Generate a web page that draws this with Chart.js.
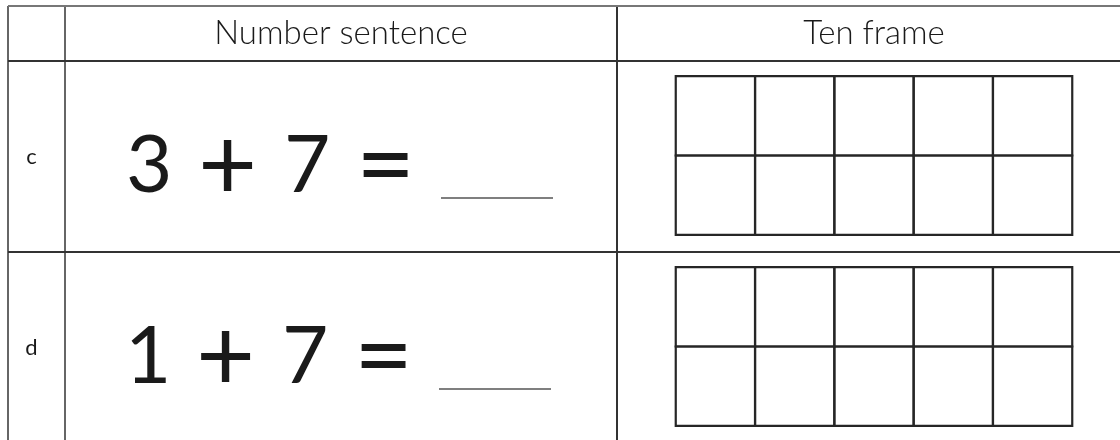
<!DOCTYPE html>
<html>
<head>
<meta charset="utf-8">
<script src="https://cdn.jsdelivr.net/npm/chart.js@4"></script>
<style>
  html, body { margin: 0; padding: 0; background: #fff; }
  #wrap { width: 1120px; height: 440px; }
</style>
</head>
<body>
<div id="wrap"><canvas id="chart" width="1120" height="440"></canvas></div>
<script>
const headers = ["", "Number sentence", "Ten frame"];
const rowLabels = ["c", "d"];
const firstAddends = [3, 1];
const secondAddends = [7, 7];
const frameCols = 5;
const frameRows = 2;

// table layout in canvas pixels (scales map 1 unit = 1 px)
const colEdges = [8, 65, 617, 1131];
const rowEdges = [6, 61, 252, 443];
const CELL = 79.3;
const FONT = "Lato, 'Open Sans', sans-serif";
const DIGIT_FONT = `400 80px ${FONT}`;
const OP_FONT = `400 102px ${FONT}`;

function colCenter(c) { return (colEdges[c] + colEdges[c + 1]) / 2; }
function rowCenter(r) { return (rowEdges[r] + rowEdges[r + 1]) / 2; }

// one square per ten-frame cell
const frameCells = [];
rowLabels.forEach((_, r) => {
  const cx = colCenter(2);
  const cy = rowCenter(r + 1) - 1;
  for (let i = 0; i < frameCols; i++) {
    for (let j = 0; j < frameRows; j++) {
      frameCells.push({
        x: cx + (i - (frameCols - 1) / 2) * CELL,
        y: cy + (j - (frameRows - 1) / 2) * CELL,
      });
    }
  }
});

const tablePlugin = {
  id: "tableText",
  afterDraw(chart) {
    const { ctx, scales: { x, y } } = chart;
    ctx.save();
    ctx.fillStyle = "#1a1a1a";

    // header row
    ctx.font = `300 33px ${FONT}`;
    ctx.textAlign = "center";
    ctx.textBaseline = "alphabetic";
    headers.forEach((h, c) => {
      if (!h) return;
      ctx.fillText(h, x.getPixelForValue(colCenter(c)), y.getPixelForValue(44));
    });

    // row letters
    ctx.font = `22px ${FONT}`;
    rowLabels.forEach((lab, r) => {
      ctx.fillText(lab, x.getPixelForValue(colCenter(0) - 5), y.getPixelForValue(rowCenter(r + 1) + 7));
    });

    // number sentences
    ctx.textAlign = "left";
    rowLabels.forEach((_, r) => {
      const tokens = [
        { t: String(firstAddends[r]), font: DIGIT_FONT, dy: 0 },
        { t: "+", font: OP_FONT, dy: 8 },
        { t: String(secondAddends[r]), font: DIGIT_FONT, dy: 0 },
        { t: "=", font: OP_FONT, dy: 8 },
      ];
      const gap = 35;
      const blankW = 112;
      tokens.forEach((tk) => {
        ctx.font = tk.font;
        const m = ctx.measureText(tk.t);
        tk.left = m.actualBoundingBoxLeft;
        tk.w = m.actualBoundingBoxLeft + m.actualBoundingBoxRight;
      });
      const total = tokens.reduce((s, b) => s + b.w, 0) + gap * tokens.length - 2 + blankW;
      let px = x.getPixelForValue(colCenter(1)) - total / 2;
      const base = y.getPixelForValue(rowCenter(r + 1) + 35);
      tokens.forEach((tk) => {
        ctx.font = tk.font;
        ctx.fillText(tk.t, px + tk.left, base + tk.dy);
        px += tk.w + gap;
      });
      px -= 2;
      ctx.strokeStyle = "#555";
      ctx.lineWidth = 1.5;
      ctx.beginPath();
      ctx.moveTo(px, base + 6.5);
      ctx.lineTo(px + blankW, base + 6.5);
      ctx.stroke();
    });
    ctx.restore();
  },
};

new Chart(document.getElementById("chart"), {
  type: "scatter",
  data: {
    datasets: [{
      data: frameCells,
      pointStyle: "rect",
      pointRadius: CELL / Math.SQRT2,
      pointHoverRadius: CELL / Math.SQRT2,
      backgroundColor: "rgba(0,0,0,0)",
      borderColor: "#262626",
      borderWidth: 2.2,
      clip: false,
    }],
  },
  options: {
    responsive: false,
    devicePixelRatio: 1,
    animation: false,
    events: [],
    layout: {
      autoPadding: false,
      padding: { left: colEdges[0], top: rowEdges[0], right: 0, bottom: 0 },
    },
    plugins: { legend: { display: false }, tooltip: { enabled: false } },
    scales: {
      x: {
        type: "linear",
        min: colEdges[0],
        max: 1120,
        afterBuildTicks: (scale) => { scale.ticks = colEdges.slice(0, 3).map((v) => ({ value: v })); },
        ticks: { display: false },
        border: { display: false },
        grid: {
          drawTicks: false,
          lineWidth: 2,
          color: (c) => (c.index === 2 ? "#333" : "#666"),
        },
      },
      y: {
        type: "linear",
        reverse: true,
        min: rowEdges[0],
        max: 440,
        afterBuildTicks: (scale) => { scale.ticks = rowEdges.slice(0, 3).map((v) => ({ value: v })); },
        ticks: { display: false },
        border: { display: false },
        grid: {
          drawTicks: false,
          lineWidth: 2,
          color: (c) => (c.index === 0 ? "#777" : "#333"),
        },
      },
    },
  },
  plugins: [tablePlugin],
});
</script>
</body>
</html>
